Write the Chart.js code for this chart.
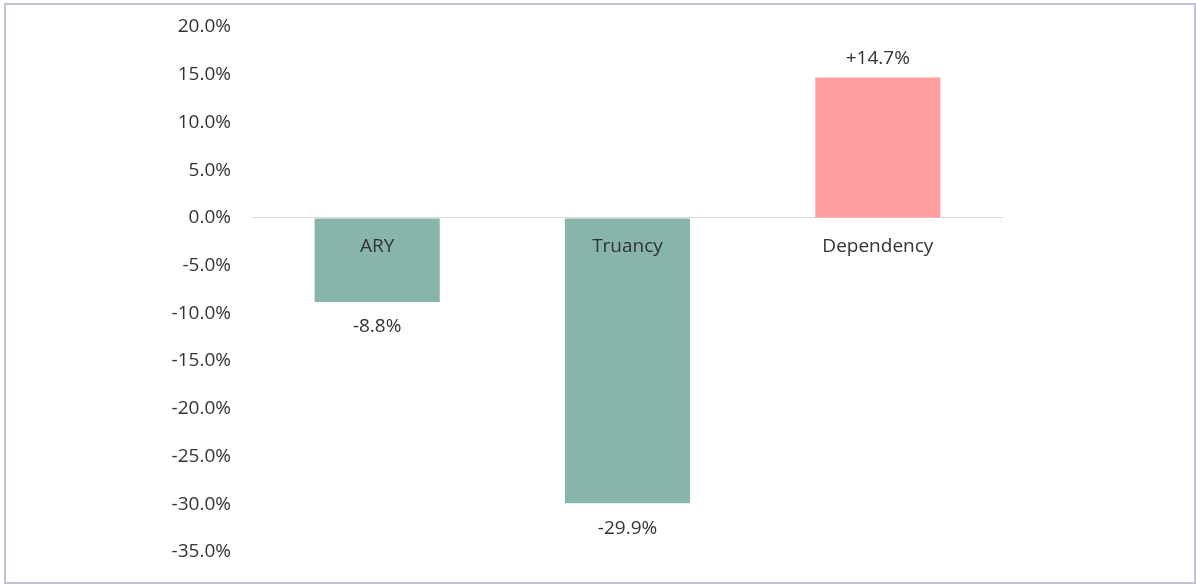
<!DOCTYPE html>
<html>
<head>
<meta charset="utf-8">
<script src="https://cdn.jsdelivr.net/npm/chart.js@4.4.0/dist/chart.umd.min.js"></script>
<style>
    html, body { margin: 0; padding: 0; background: #fff; }
    #wrap { position: relative; width: 1196px; height: 585px; }
</style>
</head>
<body>
<div id="wrap"><canvas id="chart" width="1196" height="585"></canvas></div>
<script>
// Datos
const categories = ['ARY', 'Truancy', 'Dependency'];
const changes = [-8.8, -29.9, 14.7];
const barColors = ['#88b5aa', '#88b5aa', '#ff9f9f'];
const yMin = -35;
const yMax = 20;
const yStep = 5;

const textColor = '#333333';
const fontFamily = '"Open Sans", "Liberation Sans", sans-serif';
const fontSize = 19;

// Formato de porcentaje con signo
const formatChange = (v) => (v > 0 ? '+' : '') + v.toFixed(1) + '%';

// Plugin: etiquetas de categoría, valores y marco
const labelsPlugin = {
    id: 'labelsPlugin',
    afterDatasetsDraw(chart) {
        const ctx = chart.ctx;
        const meta = chart.getDatasetMeta(0);
        const zeroY = chart.scales.y.getPixelForValue(0);
        ctx.save();
        ctx.fillStyle = textColor;
        ctx.font = `${fontSize}px ${fontFamily}`;
        ctx.textAlign = 'center';
        ctx.textBaseline = 'middle';
        meta.data.forEach((bar, i) => {
            const v = changes[i];
            // Nombre de la categoría justo debajo de la línea cero
            ctx.fillText(categories[i], bar.x, zeroY + 29);
            // Valor fuera de la barra
            const y = v < 0 ? bar.y + 25 : bar.y - 19;
            ctx.fillText(formatChange(v), bar.x, y);
        });
        ctx.restore();
    },
    afterDraw(chart) {
        const ctx = chart.ctx;
        ctx.save();
        ctx.strokeStyle = '#c8c0d6';
        ctx.lineWidth = 2;
        ctx.strokeRect(5, 4, 1190, 579);
        ctx.restore();
    }
};

new Chart(document.getElementById('chart'), {
    type: 'bar',
    data: {
        labels: categories,
        datasets: [{
            data: changes,
            backgroundColor: barColors,
            borderWidth: 0,
            categoryPercentage: 1.0,
            barPercentage: 0.5
        }]
    },
    options: {
        responsive: false,
        animation: false,
        layout: {
            padding: { top: 27, bottom: 33, left: 0, right: 193 }
        },
        plugins: {
            legend: { display: false },
            tooltip: { enabled: false }
        },
        scales: {
            x: {
                display: false
            },
            y: {
                min: yMin,
                max: yMax,
                border: { display: false },
                afterFit: (scale) => { scale.width = 252; },
                grid: {
                    drawTicks: true,
                    tickLength: 21,
                    tickColor: 'rgba(0,0,0,0)',
                    color: (c) => (c.tick && c.tick.value === 0 ? '#d9d9d9' : 'rgba(0,0,0,0)'),
                    lineWidth: 1
                },
                ticks: {
                    stepSize: yStep,
                    padding: 0,
                    color: textColor,
                    font: { family: fontFamily, size: fontSize },
                    callback: (v) => v.toFixed(1) + '%'
                }
            }
        }
    },
    plugins: [labelsPlugin]
});
</script>
</body>
</html>
